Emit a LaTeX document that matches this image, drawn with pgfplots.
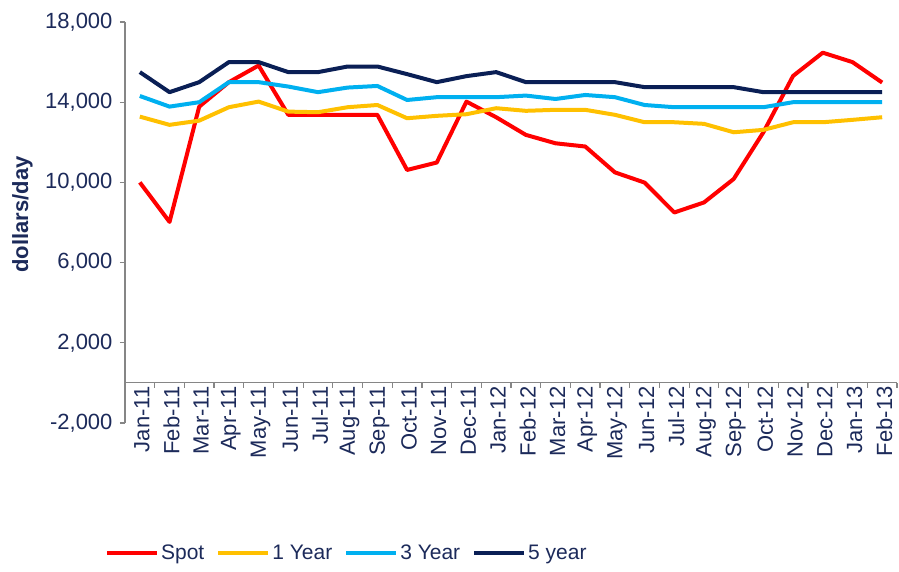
\documentclass[border=0pt]{standalone}
\usepackage{pgfplots}
\pgfplotsset{compat=1.18}
\usepackage{fontspec}
\setmainfont{Liberation Sans}
\definecolor{txt}{HTML}{1C2A5A}
\definecolor{axgray}{HTML}{868686}
\definecolor{spot}{HTML}{FF0000}
\definecolor{oney}{HTML}{FFC000}
\definecolor{threey}{HTML}{00B0F0}
\definecolor{fivey}{HTML}{0A1F55}
\newcommand\bigf{\fontsize{22}{26}\selectfont}
\newcommand\legf{\fontsize{21}{25}\selectfont}
\begin{document}
\begin{tikzpicture}
\begin{axis}[
  at={(0pt,0pt)}, anchor=south west,
  scale only axis, width=772pt, height=401pt,
  xmin=-0.5, xmax=25.5, ymin=-2000, ymax=18000,
  axis y line=left, axis x line=middle,
  axis line style={axgray, line width=1.2pt, -},
  every inner x axis line/.append style={-},
  every outer y axis line/.append style={-},
  tick style={axgray, line width=1.2pt},
  tick align=outside,
  major tick length=5pt,
  ytick={-2000,2000,6000,10000,14000,18000},
  xtick={-0.5,0.5,...,25.5},
  xticklabels={},
  extra x ticks={0,1,...,25},
  extra x tick labels={Jan-11,Feb-11,Mar-11,Apr-11,May-11,Jun-11,Jul-11,Aug-11,Sep-11,Oct-11,Nov-11,Dec-11,Jan-12,Feb-12,Mar-12,Apr-12,May-12,Jun-12,Jul-12,Aug-12,Sep-12,Oct-12,Nov-12,Dec-12,Jan-13,Feb-13},
  extra x tick style={major tick length=0pt, tick label style={rotate=90, anchor=east, font=\bigf, text=txt, yshift=-2pt}},
  yticklabel style={font=\bigf, text=txt, xshift=-4pt},
  /pgf/number format/assume math mode=true,
  /pgf/number format/1000 sep={,},
  scaled y ticks=false,
  ylabel={dollars/day},
  every axis y label/.style={at={(axis description cs:-0.133,0.52)}, rotate=90, anchor=center, font=\bigf\bfseries, text=txt},
  legend columns=4,
  legend style={at={(axis description cs:-0.026,-0.324)}, anchor=west, draw=none, fill=none, font=\legf, text=txt,
    /tikz/every even column/.append style={column sep=10pt}, inner sep=0pt},
  legend image code/.code={\draw[#1] (0pt,0pt) -- (50pt,0pt);},
  every axis plot/.append style={line width=4pt, line join=round, no markers},
  clip=false,
]
\addplot[spot] coordinates {(0,10000)(1,8030)(2,13780)(3,15000)(4,15830)(5,13370)(6,13370)(7,13370)(8,13370)(9,10620)(10,10990)(11,14030)(12,13250)(13,12370)(14,11950)(15,11790)(16,10500)(17,9990)(18,8500)(19,9000)(20,10170)(21,12500)(22,15310)(23,16470)(24,16000)(25,14980)};
\addlegendentry{Spot}
\addplot[oney] coordinates {(0,13280)(1,12870)(2,13080)(3,13750)(4,14030)(5,13530)(6,13500)(7,13750)(8,13860)(9,13200)(10,13320)(11,13400)(12,13700)(13,13570)(14,13620)(15,13620)(16,13370)(17,13000)(18,13000)(19,12920)(20,12500)(21,12620)(22,13000)(23,13000)(24,13120)(25,13250)};
\addlegendentry{1 Year}
\addplot[threey] coordinates {(0,14310)(1,13780)(2,14000)(3,15000)(4,15000)(5,14780)(6,14500)(7,14730)(8,14810)(9,14110)(10,14250)(11,14250)(12,14250)(13,14330)(14,14160)(15,14360)(16,14250)(17,13860)(18,13750)(19,13750)(20,13750)(21,13750)(22,14000)(23,14000)(24,14000)(25,14000)};
\addlegendentry{3 Year}
\addplot[fivey] coordinates {(0,15500)(1,14500)(2,15000)(3,16000)(4,16000)(5,15500)(6,15500)(7,15780)(8,15780)(9,15400)(10,15000)(11,15300)(12,15500)(13,15000)(14,15000)(15,15000)(16,15000)(17,14750)(18,14750)(19,14750)(20,14750)(21,14500)(22,14500)(23,14500)(24,14500)(25,14500)};
\addlegendentry{5 year}
\end{axis}
\pgfresetboundingbox
\path (-125pt,-149pt) rectangle (774pt,423pt);
\end{tikzpicture}
\end{document}
